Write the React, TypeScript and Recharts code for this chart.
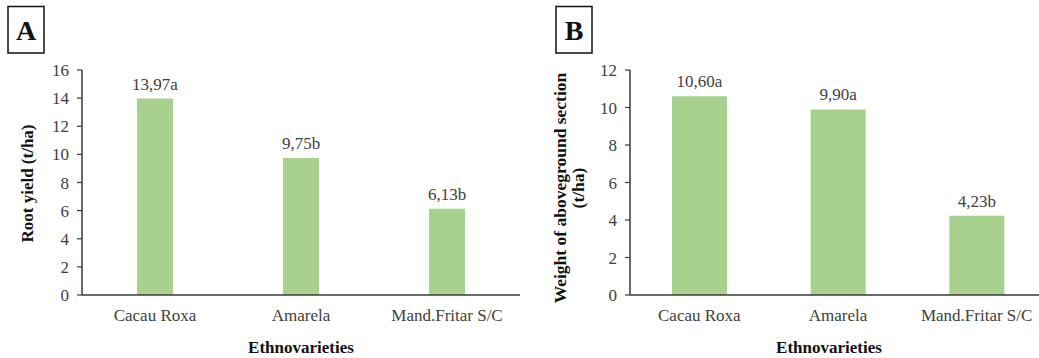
import { BarChart, Bar, XAxis, YAxis, LabelList } from 'recharts';

const categories = ['Cacau Roxa', 'Amarela', 'Mand.Fritar S/C'];
const rootYield = [13.97, 9.75, 6.13];
const rootYieldLabels = ['13,97a', '9,75b', '6,13b'];
const aboveWeight = [10.6, 9.9, 4.23];
const aboveWeightLabels = ['10,60a', '9,90a', '4,23b'];
const ticksA = [0, 2, 4, 6, 8, 10, 12, 14, 16];
const ticksB = [0, 2, 4, 6, 8, 10, 12];

const FONT = 'Liberation Serif, Times New Roman, serif';
const GREEN = '#A9D18E';
const AXIS = '#3a3a3a';
const TEXT = '#404040';

const dataA = categories.map((name, i) => ({ name, value: rootYield[i], label: rootYieldLabels[i] }));
const dataB = categories.map((name, i) => ({ name, value: aboveWeight[i], label: aboveWeightLabels[i] }));

const tickStyle = { fontSize: 17, fill: TEXT, fontFamily: FONT, style: { fontFamily: FONT } };

function ValueLabel(props: any) {
  const { x, y, width, value } = props;
  return (
    <text x={x + width / 2} y={y - 9} textAnchor="middle" fontSize={17} style={{ fontFamily: FONT }} fill={TEXT}>
      {value}
    </text>
  );
}

function XTitle({ x }: { x: number }) {
  return (
    <text x={x} y={353} textAnchor="middle" fontSize={17} fontWeight="bold" style={{ fontFamily: FONT }} fill="#111">
      Ethnovarieties
    </text>
  );
}

function YTitle({ lines, x, y, size, gap }: { lines: string[]; x: number; y: number; size: number; gap: number }) {
  return (
    <g>
      {lines.map((t, i) => {
        const bx = x + i * gap;
        return (
          <text
            key={i}
            x={bx}
            y={y}
            textAnchor="middle"
            fontSize={size}
            fontWeight="bold"
            style={{ fontFamily: FONT }}
            fill="#111"
            transform={`rotate(-90 ${bx} ${y})`}
          >
            {t}
          </text>
        );
      })}
    </g>
  );
}

function PanelTag({ x, letter }: { x: number; letter: string }) {
  return (
    <g>
      <rect x={x} y={6.5} width={36} height={46.5} fill="#fff" stroke="#111" strokeWidth={1.5} />
      <text x={x + 18} y={39.5} textAnchor="middle" fontSize={28} fontWeight="bold" style={{ fontFamily: FONT }} fill="#111">
        {letter}
      </text>
    </g>
  );
}

export default function App() {
  return (
    <div
      style={{
        position: 'absolute',
        left: 0,
        top: 0,
        width: 1039,
        height: 358,
        overflow: 'hidden',
        background: '#fff',
        fontFamily: FONT,
      }}
    >
      <div style={{ position: 'absolute', left: 0, top: 0 }}>
        <BarChart width={520} height={358} data={dataA} margin={{ top: 70, right: 0, bottom: 0, left: 0 }}>
          <XAxis
            dataKey="name"
            height={63}
            tickLine={false}
            tickMargin={8}
            axisLine={{ stroke: AXIS, strokeWidth: 1.5 }}
            tick={tickStyle}
            label={() => <XTitle x={301} />}
          />
          <YAxis
            width={82}
            domain={[0, 16]}
            ticks={ticksA}
            interval={0}
            tickSize={5}
            tickMargin={8}
            axisLine={{ stroke: AXIS, strokeWidth: 1.5 }}
            tickLine={{ stroke: AXIS, strokeWidth: 1.2 }}
            tick={tickStyle}
            label={() => <YTitle lines={['Root yield (t/ha)']} x={33} y={183.5} size={17} gap={0} />}
          />
          <Bar dataKey="value" fill={GREEN} barSize={36} isAnimationActive={false}>
            <LabelList dataKey="label" content={<ValueLabel />} />
          </Bar>
        </BarChart>
      </div>
      <div style={{ position: 'absolute', left: 520, top: 0 }}>
        <BarChart width={526} height={358} data={dataB} margin={{ top: 70, right: 0, bottom: 0, left: 0 }}>
          <XAxis
            dataKey="name"
            height={63}
            tickLine={false}
            tickMargin={8}
            axisLine={{ stroke: AXIS, strokeWidth: 1.5 }}
            tick={tickStyle}
            label={() => <XTitle x={309} />}
          />
          <YAxis
            width={110}
            domain={[0, 12]}
            ticks={ticksB}
            interval={0}
            tickSize={5}
            tickMargin={8}
            axisLine={{ stroke: AXIS, strokeWidth: 1.5 }}
            tickLine={{ stroke: AXIS, strokeWidth: 1.2 }}
            tick={tickStyle}
            label={() => (
              <YTitle lines={['Weight of aboveground section', '(t/ha)']} x={46} y={188} size={17.5} gap={18} />
            )}
          />
          <Bar dataKey="value" fill={GREEN} barSize={55} isAnimationActive={false}>
            <LabelList dataKey="label" content={<ValueLabel />} />
          </Bar>
        </BarChart>
      </div>
      <svg width={1039} height={358} style={{ position: 'absolute', left: 0, top: 0, pointerEvents: 'none' }}>
        <PanelTag x={8} letter="A" />
        <PanelTag x={556} letter="B" />
      </svg>
    </div>
  );
}
